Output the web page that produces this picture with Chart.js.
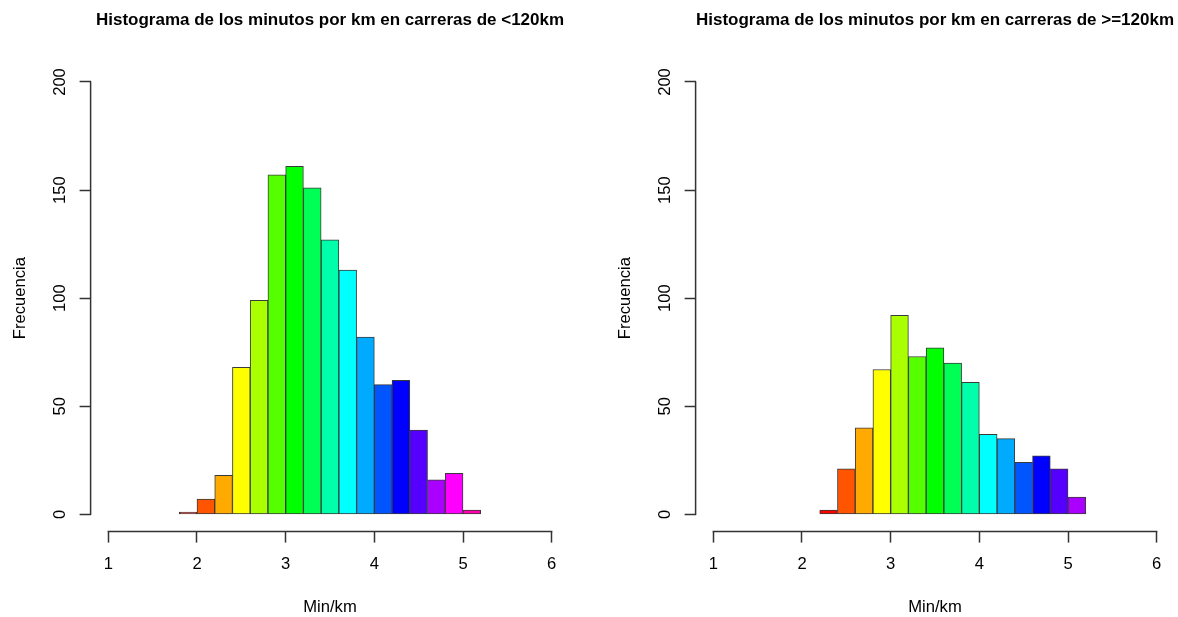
<!DOCTYPE html>
<html>
<head>
<meta charset="utf-8">
<script src="https://cdn.jsdelivr.net/npm/chart.js@4.4.1/dist/chart.umd.min.js"></script>
<style>
  html, body { margin: 0; padding: 0; background: #ffffff; overflow: hidden; }
  body { width: 1178px; height: 617px; position: relative; }
  .panel { position: absolute; top: 0; width: 573px; height: 617px; }
  #p1 { left: 0px; }
  #p2 { left: 605px; }
</style>
</head>
<body>
<div class="panel" id="p1"><canvas id="c1" width="573" height="617"></canvas></div>
<div class="panel" id="p2"><canvas id="c2" width="573" height="617"></canvas></div>
<script>
// ---- data ----
const xTickLabels = [1, 2, 3, 4, 5, 6];
const yTickLabels = [0, 50, 100, 150, 200];

// bin midpoints (bins of 0.2 min/km)
const binsShort = [1.9, 2.1, 2.3, 2.5, 2.7, 2.9, 3.1, 3.3, 3.5, 3.7, 3.9, 4.1, 4.3, 4.5, 4.7, 4.9, 5.1];
const countsShort = [1, 7, 18, 68, 99, 157, 161, 151, 127, 113, 82, 60, 62, 39, 16, 19, 2];

const binsLong = [2.3, 2.5, 2.7, 2.9, 3.1, 3.3, 3.5, 3.7, 3.9, 4.1, 4.3, 4.5, 4.7, 4.9, 5.1];
const countsLong = [2, 21, 40, 67, 92, 73, 77, 70, 61, 37, 35, 24, 27, 21, 8];

const rainbowColors = ['#FF0000', '#FF5500', '#FFAA00', '#FFFF00', '#AAFF00', '#55FF00', '#00FF00',
  '#00FF55', '#00FFAA', '#00FFFF', '#00AAFF', '#0055FF', '#0000FF', '#5500FF', '#AA00FF', '#FF00FF', '#FF00AA'];

const titleShort = 'Histograma de los minutos por km en carreras de <120km';
const titleLong = 'Histograma de los minutos por km en carreras de >=120km';
const xLabel = 'Min/km';
const yLabel = 'Frecuencia';

// ---- styling ----
const FONT = "'Liberation Sans', Arial, Helvetica, sans-serif";
const AXIS_COLOR = '#333333';
const TEXT_COLOR = '#000000';

// R-style detached axis lines (span first..last tick only)
const rAxes = {
  id: 'rAxes',
  afterDraw(chart) {
    const { ctx, chartArea, scales } = chart;
    const x = scales.x, y = scales.y;
    ctx.save();
    ctx.strokeStyle = AXIS_COLOR;
    ctx.lineWidth = 1.5;
    ctx.lineCap = 'square';
    ctx.beginPath();
    ctx.moveTo(x.getPixelForValue(xTickLabels[0]), chartArea.bottom);
    ctx.lineTo(x.getPixelForValue(xTickLabels[xTickLabels.length - 1]), chartArea.bottom);
    ctx.moveTo(chartArea.left, y.getPixelForValue(yTickLabels[0]));
    ctx.lineTo(chartArea.left, y.getPixelForValue(yTickLabels[yTickLabels.length - 1]));
    ctx.stroke();
    ctx.restore();
  }
};

function makeChart(canvasId, title, bins, counts, colors) {
  return new Chart(document.getElementById(canvasId), {
    type: 'bar',
    data: {
      datasets: [{
        data: bins.map((b, i) => ({ x: b, y: counts[i] })),
        backgroundColor: colors,
        borderColor: '#3a3a3a',
        borderWidth: 1,
        borderSkipped: false,
        barPercentage: 1,
        categoryPercentage: 1
      }]
    },
    options: {
      responsive: false,
      animation: false,
      devicePixelRatio: 1,
      layout: { padding: { left: 0, right: 3.6, top: 0, bottom: 0 } },
      plugins: {
        legend: { display: false },
        tooltip: { enabled: false },
        title: {
          display: true,
          fullSize: false,
          text: title,
          color: TEXT_COLOR,
          font: { family: FONT, size: 17, weight: 'bold' },
          padding: { top: 9.8, bottom: 34.5 }
        }
      },
      scales: {
        x: {
          type: 'linear',
          offset: false,
          min: 0.8,
          max: 6.2,
          afterBuildTicks: s => { s.ticks = xTickLabels.map(v => ({ value: v })); },
          afterFit: s => { s.height = 85.4; },
          grid: { display: true, offset: false, drawOnChartArea: false, drawTicks: true, tickLength: 11, tickColor: AXIS_COLOR, tickWidth: 1.5 },
          border: { display: false },
          ticks: { padding: 12, color: TEXT_COLOR, font: { family: FONT, size: 16.6 }, maxRotation: 0, minRotation: 0, autoSkip: false },
          title: { display: true, text: xLabel, color: TEXT_COLOR, font: { family: FONT, size: 16.6 }, padding: { top: 0, bottom: 0 } }
        },
        y: {
          type: 'linear',
          min: -8,
          max: 208,
          afterBuildTicks: s => { s.ticks = yTickLabels.map(v => ({ value: v })); },
          afterFit: s => { s.width = 90.6; },
          grid: { display: true, drawOnChartArea: false, drawTicks: true, tickLength: 11, tickColor: AXIS_COLOR, tickWidth: 1.5 },
          border: { display: false },
          ticks: { padding: 5.3, crossAlign: 'center', minRotation: 90, maxRotation: 90, color: TEXT_COLOR, font: { family: FONT, size: 16.6 }, autoSkip: false },
          title: { display: true, text: yLabel, color: TEXT_COLOR, font: { family: FONT, size: 16.6 }, padding: { top: 10, bottom: 0 } }
        }
      }
    },
    plugins: [rAxes]
  });
}

makeChart('c1', titleShort, binsShort, countsShort, rainbowColors.slice(0, binsShort.length));
makeChart('c2', titleLong, binsLong, countsLong, rainbowColors.slice(0, binsLong.length));
</script>
</body>
</html>
